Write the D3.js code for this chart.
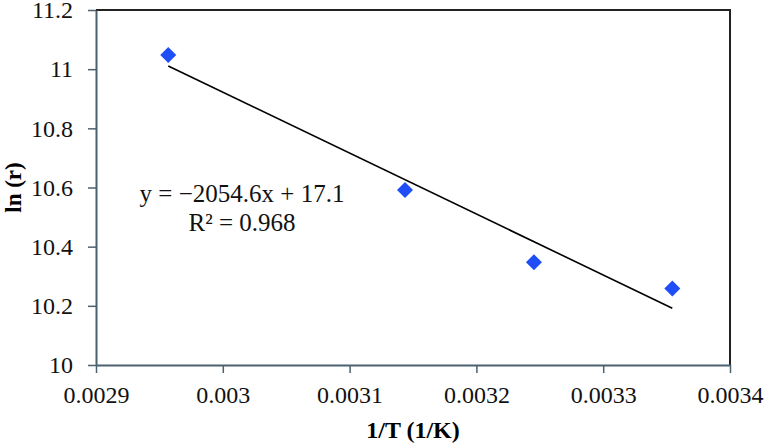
<!DOCTYPE html>
<html>
<head>
<meta charset="utf-8">
<script src="https://cdn.jsdelivr.net/npm/d3@7"></script>
</head>
<body style="margin:0; background:#fff">
<div id="chart"></div>
<script>
// chart size
var w = 766;
var h = 445;
var margin = {top: 10, right: 36, bottom: 80, left: 96};
var fontFam = "'Liberation Serif'";

// data
var invT = [0.002957, 0.0031437, 0.0032454, 0.0033545];
var lnR = [11.048, 10.5915, 10.347, 10.259];
var xTicks = [0.0029, 0.003, 0.0031, 0.0032, 0.0033, 0.0034];
var yTicks = [10, 10.2, 10.4, 10.6, 10.8, 11, 11.2];
var eqLines = ["y = \u22122054.6x + 17.1", "R\u00b2 = 0.968"];

var axisColor = "#4b6170";

var xScale = d3.scaleLinear()
    .domain([0.0029, 0.0034])
    .range([margin.left, w - margin.right]);

var yScale = d3.scaleLinear()
    .domain([10, 11.2])
    .range([h - margin.bottom, margin.top]);

var svg = d3.select("#chart")
    .append("svg")
    .attr("width", w)
    .attr("height", h);

// top and right border of plot area
svg.append("path")
    .attr("d", "M" + xScale(0.0029) + "," + yScale(11.2) + "H" + xScale(0.0034) + "V" + yScale(10))
    .attr("fill", "none")
    .attr("stroke", "#222")
    .attr("stroke-width", 2);

// x axis
var xAxis = d3.axisBottom(xScale)
    .tickValues(xTicks)
    .tickFormat(function(d) { return String(+d.toFixed(4)); })
    .tickSizeInner(8)
    .tickSizeOuter(0)
    .tickPadding(13);

var gx = svg.append("g")
    .attr("transform", "translate(0," + yScale(10) + ")")
    .call(xAxis);

// y axis
var yAxis = d3.axisLeft(yScale)
    .tickValues(yTicks)
    .tickFormat(function(d) { return String(+d.toFixed(1)); })
    .tickSizeInner(8)
    .tickSizeOuter(0)
    .tickPadding(15);

var gy = svg.append("g")
    .attr("transform", "translate(" + xScale(0.0029) + ",0)")
    .call(yAxis);

[gx, gy].forEach(function(g) {
    g.attr("font-family", fontFam).attr("font-size", 24);
    g.select(".domain").attr("stroke", axisColor).attr("stroke-width", 2);
    g.selectAll(".tick line").attr("stroke", axisColor).attr("stroke-width", 1.5);
    g.selectAll(".tick text").attr("fill", "#111");
});

// least squares trendline
var mx = d3.mean(invT), my = d3.mean(lnR);
var sxy = d3.sum(invT, function(x, i) { return (x - mx) * (lnR[i] - my); });
var sxx = d3.sum(invT, function(x) { return (x - mx) * (x - mx); });
var slope = sxy / sxx;
var intercept = my - slope * mx;
var xEnds = d3.extent(invT);

svg.append("line")
    .attr("x1", xScale(xEnds[0]))
    .attr("y1", yScale(slope * xEnds[0] + intercept))
    .attr("x2", xScale(xEnds[1]))
    .attr("y2", yScale(slope * xEnds[1] + intercept))
    .attr("stroke", "#000")
    .attr("stroke-width", 1.6);

// diamond points
var diamond = d3.symbol().type(d3.symbolSquare).size(128);
svg.selectAll("path.pt")
    .data(invT)
    .enter()
    .append("path")
    .attr("class", "pt")
    .attr("d", diamond)
    .attr("transform", function(d, i) {
        return "translate(" + xScale(d) + "," + yScale(lnR[i]) + ") rotate(45)";
    })
    .attr("fill", "#1f4ef7");

// equation text
svg.selectAll("text.eq")
    .data(eqLines)
    .enter()
    .append("text")
    .attr("class", "eq")
    .attr("x", 242)
    .attr("y", function(d, i) { return 202 + i * 29; })
    .attr("text-anchor", "middle")
    .attr("font-family", fontFam)
    .attr("font-size", 25)
    .attr("fill", "#111")
    .text(function(d) { return d; });

// axis titles
svg.append("text")
    .attr("x", (xScale(0.0029) + xScale(0.0034)) / 2)
    .attr("y", 438)
    .attr("text-anchor", "middle")
    .attr("font-family", fontFam)
    .attr("font-size", 24)
    .attr("font-weight", "bold")
    .text("1/T (1/K)");

svg.append("text")
    .attr("transform", "translate(21," + (yScale(10) + yScale(11.2)) / 2 + ") rotate(-90)")
    .attr("text-anchor", "middle")
    .attr("font-family", fontFam)
    .attr("font-size", 23)
    .attr("font-weight", "bold")
    .text("ln (r)");
</script>
</body>
</html>
